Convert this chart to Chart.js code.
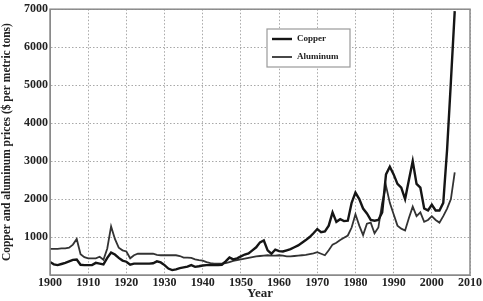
<!DOCTYPE html>
<html>
<head>
<meta charset="utf-8">
<script src="https://cdn.jsdelivr.net/npm/chart.js@4.4.0/dist/chart.umd.min.js"></script>
<style>
    html, body { margin: 0; padding: 0; background: #fff; overflow: hidden; }
    #wrap { width: 483px; height: 301px; }
</style>
</head>
<body>
<div id="wrap"><canvas id="price-chart"></canvas></div>
<script>
const chartCanvas = document.getElementById('price-chart');

const years = [
    1900, 1901, 1902, 1903, 1904, 1905, 1906, 1907, 1908, 1909,
    1910, 1911, 1912, 1913, 1914, 1915, 1916, 1917, 1918, 1919,
    1920, 1921, 1922, 1923, 1924, 1925, 1926, 1927, 1928, 1929,
    1930, 1931, 1932, 1933, 1934, 1935, 1936, 1937, 1938, 1939,
    1940, 1941, 1942, 1943, 1944, 1945, 1946, 1947, 1948, 1949,
    1950, 1951, 1952, 1953, 1954, 1955, 1956, 1957, 1958, 1959,
    1960, 1961, 1962, 1963, 1964, 1965, 1966, 1967, 1968, 1969,
    1970, 1971, 1972, 1973, 1974, 1975, 1976, 1977, 1978, 1979,
    1980, 1981, 1982, 1983, 1984, 1985, 1986, 1987, 1988, 1989,
    1990, 1991, 1992, 1993, 1994, 1995, 1996, 1997, 1998, 1999,
    2000, 2001, 2002, 2003, 2004, 2005, 2006
];

const copper = [
    345, 280, 260, 290, 320, 360, 400, 410, 270, 260,
    260, 260, 320, 300, 280, 450, 590, 540, 450, 380,
    350, 270, 300, 300, 300, 300, 300, 310, 360, 330,
    260, 170, 130, 150, 180, 200, 220, 260, 215, 230,
    250, 260, 260, 260, 260, 270, 360, 460, 410, 440,
    490, 540, 570, 650, 730, 860, 910, 650, 560, 670,
    630, 620, 650, 680, 730, 780, 850, 920, 1000, 1100,
    1210, 1130, 1150, 1300, 1650, 1400, 1470, 1420, 1430, 1900,
    2170, 2000, 1750, 1620, 1450, 1430, 1450, 1650, 2650, 2850,
    2650, 2400, 2300, 2000, 2500, 3000, 2400, 2300, 1750, 1700,
    1850, 1700, 1700, 1900, 3300, 5100, 6950
];

const aluminum = [
    690, 690, 690, 700, 700, 720, 800, 950, 550, 470,
    440, 440, 440, 480, 400, 700, 1280, 950, 720, 650,
    620, 440, 520, 560, 560, 560, 560, 560, 530, 520,
    520, 520, 520, 520, 500, 460, 460, 450, 410, 390,
    380, 340, 310, 300, 300, 300, 310, 340, 370, 390,
    410, 430, 450, 470, 490, 500, 510, 520, 510, 510,
    520, 510, 490, 490, 500, 510, 520, 530, 550, 570,
    600, 560, 520, 650, 800, 850, 920, 980, 1040, 1250,
    1600, 1300, 1050, 1350, 1380, 1100, 1250, 1900, 2350, 1900,
    1600, 1300, 1220, 1170, 1500, 1800, 1550, 1650, 1400, 1450,
    1550, 1450, 1380, 1550, 1750, 2000, 2700
];

const seriesNames = ['Copper', 'Aluminum'];
const xTitle = 'Year';
const yTitle = 'Copper and aluminum prices ($ per metric tons)';

const fontFamily = '"Liberation Serif", "DejaVu Serif", serif';

// box round the plot area plus the legend inside it
const framePlugin = {
    id: 'frame',
    afterDraw(chart) {
        const ctx = chart.ctx;
        const a = chart.chartArea;
        ctx.save();
        ctx.strokeStyle = '#8a8a8a';
        ctx.lineWidth = 1.5;
        ctx.setLineDash([]);
        ctx.strokeRect(a.left, a.top, a.right - a.left, a.bottom - a.top);

        // legend box
        const lx = 267, ly = 29, lw = 83, lh = 38;
        ctx.fillStyle = '#fff';
        ctx.fillRect(lx, ly, lw, lh);
        ctx.strokeStyle = '#9a9a9a';
        ctx.lineWidth = 1.2;
        ctx.strokeRect(lx, ly, lw, lh);
        ctx.font = 'bold 9px ' + fontFamily;
        ctx.textBaseline = 'middle';
        chart.data.datasets.forEach((ds, i) => {
            const yy = ly + 10 + i * 18;
            ctx.strokeStyle = ds.borderColor;
            ctx.lineWidth = ds.borderWidth;
            ctx.beginPath();
            ctx.moveTo(lx + 5, yy);
            ctx.lineTo(lx + 25, yy);
            ctx.stroke();
            ctx.fillStyle = '#222';
            ctx.fillText(ds.label, lx + 30, yy);
        });
        ctx.restore();
    }
};

new Chart(chartCanvas.getContext('2d'), {
    type: 'line',
    data: {
        datasets: [
            {
                label: seriesNames[0],
                data: years.map((y, i) => ({ x: y, y: copper[i] })),
                borderColor: '#151515',
                borderWidth: 2.4,
                pointRadius: 0,
                fill: false,
                tension: 0
            },
            {
                label: seriesNames[1],
                data: years.map((y, i) => ({ x: y, y: aluminum[i] })),
                borderColor: '#333',
                borderWidth: 1.8,
                pointRadius: 0,
                fill: false,
                tension: 0
            }
        ]
    },
    options: {
        responsive: true,
        maintainAspectRatio: false,
        animation: false,
        layout: { padding: { top: 6, right: 13, left: 0, bottom: 0 } },
        scales: {
            x: {
                type: 'linear',
                min: 1900,
                max: 2010,
                afterFit: (scale) => { scale.height = 26; },
                ticks: {
                    stepSize: 10,
                    padding: 1,
                    color: '#222',
                    font: { family: fontFamily, size: 12, weight: 'bold' },
                    callback: (v) => String(v)
                },
                grid: {
                    color: '#a8a8a8',
                    lineWidth: 1,
                    tickLength: 0,
                    drawTicks: false
                },
                border: { display: true, color: '#8a8a8a', dash: [1.5, 2] },
                title: {
                    display: true,
                    text: xTitle,
                    color: '#222',
                    padding: { top: 0, bottom: 0 },
                    font: { family: fontFamily, size: 13, weight: 'bold' }
                }
            },
            y: {
                min: 0,
                max: 7000,
                afterFit: (scale) => { scale.width = 50; },
                ticks: {
                    stepSize: 1000,
                    padding: 2,
                    color: '#222',
                    font: { family: fontFamily, size: 12, weight: 'bold' },
                    callback: (v) => v === 0 ? '' : String(v)
                },
                grid: {
                    color: '#a8a8a8',
                    lineWidth: 1,
                    drawTicks: false
                },
                border: { display: true, color: '#8a8a8a', dash: [1.5, 2] },
                title: {
                    display: true,
                    text: yTitle,
                    color: '#222',
                    padding: { top: 0, bottom: 1 },
                    font: { family: fontFamily, size: 11.5, weight: 'bold' }
                }
            }
        },
        plugins: {
            legend: { display: false },
            tooltip: { enabled: false }
        }
    },
    plugins: [framePlugin]
});
</script>
</body>
</html>
